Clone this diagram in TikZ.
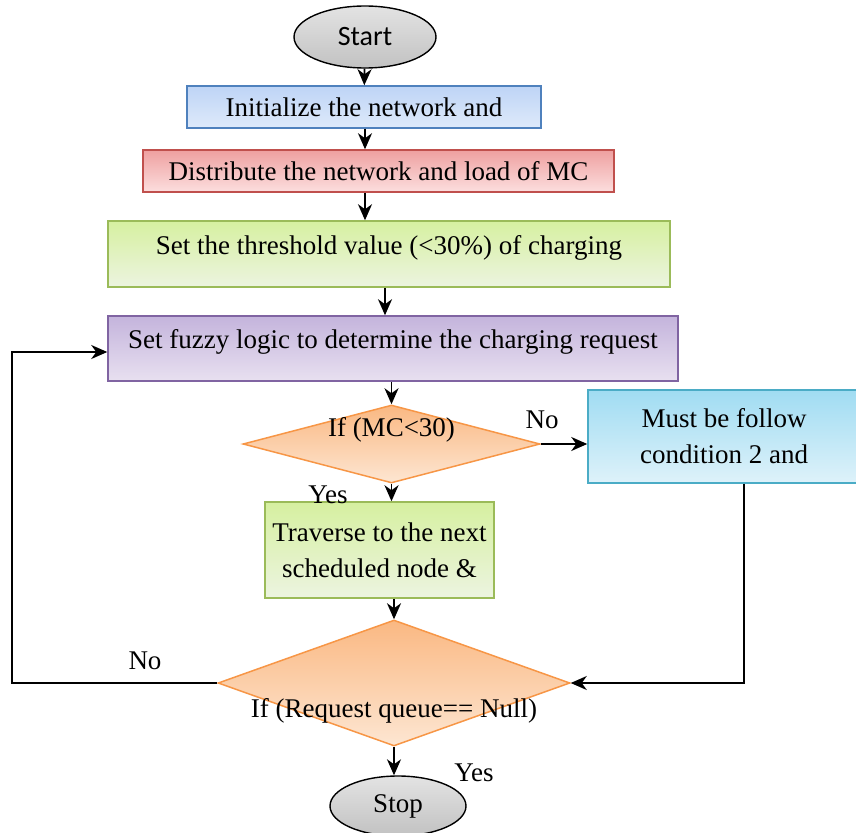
\documentclass[tikz,border=0pt]{standalone}
\usepackage{fontspec}
\setmainfont{Liberation Serif}
\newfontfamily\capfont{Carlito}
\usetikzlibrary{shapes.geometric, arrows.meta}

\definecolor{bluline}{RGB}{79,129,189}
\definecolor{blutop}{RGB}{190,212,246}
\definecolor{blubot}{RGB}{222,234,250}
\definecolor{redline}{RGB}{192,80,77}
\definecolor{redtop}{RGB}{238,160,160}
\definecolor{redbot}{RGB}{252,222,222}
\definecolor{grnline}{RGB}{155,187,89}
\definecolor{grntop}{RGB}{214,240,160}
\definecolor{grnbot}{RGB}{236,244,224}
\definecolor{purline}{RGB}{128,100,162}
\definecolor{purtop}{RGB}{196,180,220}
\definecolor{purbot}{RGB}{232,224,240}
\definecolor{orgline}{RGB}{247,150,70}
\definecolor{orgtop}{RGB}{250,184,130}
\definecolor{orgbot}{RGB}{253,230,210}
\definecolor{cynline}{RGB}{75,172,198}
\definecolor{cyntop}{RGB}{160,220,242}
\definecolor{cynbot}{RGB}{222,242,250}

\tikzset{
  flow/.style={line width=1.8pt, arrows={-Stealth[length=16pt, width=14pt, inset=5pt]}}
}

\begin{document}
\begin{tikzpicture}[x=1pt, y=-1pt, font=\fontsize{27}{36}\selectfont,
  term/.style={ellipse, draw=black, line width=1.4pt, top color=gray!22, bottom color=gray!48, inner sep=0pt},
  procbox/.style={rectangle, line width=1.5pt, inner sep=2pt, align=center},
  cond/.style={diamond, draw=orgline, line width=1.5pt, top color=orgtop, bottom color=orgbot, inner sep=0pt}]
  \useasboundingbox (0,0) rectangle (856,832);

  \node[term, font=\capfont\fontsize{28}{30}\selectfont, minimum width=142pt, minimum height=62pt] (start) at (365,37) {Start};
  \node[procbox, draw=bluline, top color=blutop, bottom color=blubot, minimum width=354pt, minimum height=42pt] (init) at (364,107) {Initialize the network and};
  \node[procbox, draw=redline, top color=redtop, bottom color=redbot, minimum width=471pt, minimum height=42pt] (distr) at (378.5,171) {Distribute the network and load of MC};
  \node[procbox, draw=grnline, top color=grntop, bottom color=grnbot, minimum width=562pt, minimum height=66pt, text height=18pt, text depth=18pt] (thresh) at (389,254) {Set the threshold value (<30\%) of charging};
  \node[procbox, draw=purline, top color=purtop, bottom color=purbot, minimum width=570pt, minimum height=65pt, text height=18pt, text depth=18pt] (fuzzy) at (393,348.5) {Set fuzzy logic to determine the charging request};
  \node[cond, minimum width=297pt, minimum height=78pt, label={[yshift=14pt]center:If (MC<30)}] (mccheck) at (391.5,444) {};
  \node[procbox, draw=cynline, top color=cyntop, bottom color=cynbot, minimum width=272pt, minimum height=93pt] (follow) at (724,436.5) {Must be follow\\condition 2 and};
  \node[procbox, draw=grnline, top color=grntop, bottom color=grnbot, minimum width=229pt, minimum height=96pt] (travel) at (379.5,550) {Traverse to the next\\scheduled node \&};
  \node[cond, minimum width=352pt, minimum height=126pt, label={[yshift=-28pt]center:If (Request queue== Null)}] (qcheck) at (394,683) {};
  \node[term, minimum width=136pt, minimum height=60pt] (stop) at (398,806) {Stop};

  \node (nolbl) at (542,420) {No};
  \node (yeslbl) at (328,495) {Yes};
  \node (noback) at (145,661) {No};
  \node (yesend) at (474,773) {Yes};

  \draw[flow] (start) -- (init);
  \draw[flow] (init.south -| start) -- (distr.north -| start);
  \draw[flow] (distr.south -| start) -- (thresh.north -| start);
  \draw[flow] (thresh.south -| 385,0) -- (fuzzy.north -| 385,0);
  \draw[flow] (fuzzy.south -| mccheck) -- (mccheck.north);
  \draw[flow] (mccheck.east) -- (follow.west |- mccheck.east);
  \draw[flow] (mccheck.south) -- (travel.north -| mccheck.south);
  \draw[flow] (travel.south -| qcheck) -- (qcheck.north);
  \draw[flow] (qcheck.south) -- (stop.north -| qcheck.south);
  \draw[flow] (qcheck.west) -- (12,683) |- (fuzzy.west |- 0,352);
  \draw[flow] (follow.south -| 744,0) |- (qcheck.east);
\end{tikzpicture}
\end{document}
